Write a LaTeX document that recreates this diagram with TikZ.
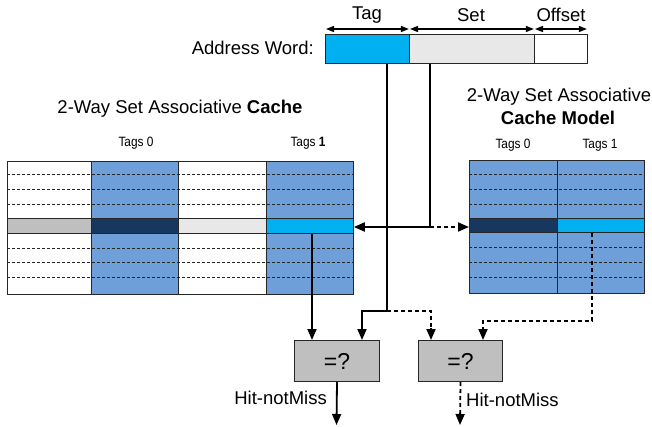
\documentclass[tikz,border=0pt]{standalone}
\usepackage{fontspec}
\setmainfont{Liberation Sans}
\usetikzlibrary{arrows.meta}
\definecolor{colblue}{HTML}{6F9FD8}
\definecolor{navy}{HTML}{17375E}
\definecolor{cyanb}{HTML}{00B0F0}
\definecolor{grayA}{HTML}{BFBFBF}
\definecolor{grayB}{HTML}{E8E8E8}
\tikzset{
  lbl/.style={font=\fontsize{18.5}{21}\selectfont, inner sep=0pt},
  smalllbl/.style={font=\fontsize{13.5}{15}\selectfont, inner sep=0pt},
  cell/.style={draw=black!85, line width=0.8pt, inner sep=0pt, anchor=north west, minimum height=14.5pt},
  segbox/.style={draw=black!85, line width=0.9pt, inner sep=0pt, anchor=north west, minimum height=29pt},
  cmpbox/.style={draw=black!85, line width=1pt, fill=grayA, inner sep=0pt, anchor=north west,
                 minimum width=85pt, minimum height=41pt, font=\fontsize{23}{25}\selectfont},
  wire/.style={line width=1.8pt, black},
  dwire/.style={line width=1.8pt, black, dash pattern=on 4pt off 3pt},
  tip/.style={-{Triangle[length=11pt,width=9pt]}},
  dimarrow/.style={line width=1.3pt, {Triangle[length=8pt,width=6pt]}-{Triangle[length=8pt,width=6pt]}, shorten <=1pt, shorten >=1pt},
  rowline/.style={black!85, line width=0.8pt, dash pattern=on 3pt off 2pt},
  frame/.style={black!85, line width=0.9pt}
}
\newcommand{\narrow}[1]{\scalebox{0.88}[1]{#1}}
\begin{document}
\begin{tikzpicture}[x=1pt,y=-1pt]
\useasboundingbox (0,0) rectangle (652,427);

% ---------- address word ----------
\node[lbl, anchor=east] (aw) at (314,48) {Address Word:};
\node[segbox, fill=cyanb, minimum width=84pt] (aTag) at (325,34) {};
\node[segbox, fill=grayB, minimum width=125pt] (aSet) at (409,34) {};
\node[segbox, fill=white, minimum width=53pt] (aOff) at (534,34) {};
\draw[dimarrow] ([yshift=5pt]aTag.north west) -- ([yshift=5pt]aTag.north east);
\draw[dimarrow] ([yshift=5pt]aSet.north west) -- ([yshift=5pt]aSet.north east);
\draw[dimarrow] ([yshift=5pt]aOff.north west) -- ([yshift=5pt]aOff.north east);
\node[lbl] (ltag) at (367,15) {Tag};
\node[lbl] (lset) at (471,15) {Set};
\node[lbl] (loff) at (561,15) {Offset};

% ---------- left cache ----------
\node[lbl] (ltitle) at (180,109) {2-Way Set Associative \textbf{Cache}};
\node[smalllbl] (lt0) at (136,143) {\narrow{Tags 0}};
\node[smalllbl] (lt1) at (308,143) {\narrow{Tags \textbf{1}}};
\fill[colblue] (91,161) rectangle (178,294);
\fill[colblue] (266,161) rectangle (353,294);
\foreach \yy in {174.5,189,204,248,262.5,277}
  \draw[rowline] (7,\yy) -- (353,\yy);
\node[cell, fill=grayA, minimum width=84pt] (L0a) at (7,218.5) {};
\node[cell, fill=navy, minimum width=87pt] (L0h) at (91,218.5) {};
\node[cell, fill=grayB, minimum width=88pt] (L1a) at (178,218.5) {};
\node[cell, fill=cyanb, minimum width=87pt] (L1h) at (266,218.5) {};
\draw[frame] (7,161) rectangle (353,294);
\foreach \xx in {91,178,266}
  \draw[frame] (\xx,161) -- (\xx,294);

% ---------- right cache (model) ----------
\node[lbl] (rtitle1) at (559,97) {2-Way Set Associative};
\node[lbl] (rtitle2) at (558,118) {\textbf{Cache Model}};
\node[smalllbl] (rt0) at (513,145) {\narrow{Tags 0}};
\node[smalllbl] (rt1) at (600,145) {\narrow{Tags 1}};
\fill[colblue] (469,160) rectangle (644,293);
\foreach \yy in {174.5,189,204,247.5,262,277}
  \draw[rowline] (469,\yy) -- (644,\yy);
\node[cell, fill=navy, minimum width=88pt] (R0h) at (469,218) {};
\node[cell, fill=cyanb, minimum width=87pt] (R1h) at (557,218) {};
\draw[frame] (469,160) rectangle (644,293);
\draw[frame] (557,160) -- (557,293);

% ---------- comparators ----------
\node[cmpbox] (cmp1) at (294,340) {=?};
\node[cmpbox, minimum width=84pt] (cmp2) at (418,340) {=?};

% ---------- connectors ----------
\coordinate (tj) at (387,311);
\coordinate (sj) at (430,227);
\coordinate (rj) at (592,321);
\coordinate (c1a) at (312,340);
\coordinate (c1b) at (362,340);
\coordinate (c2a) at (431,340);
\coordinate (c2b) at (483,340);
\coordinate (o1) at (336.5,425);
\coordinate (o2) at (460,425);

% set index line
\draw[wire] (aSet.south -| sj) -- (sj);
\draw[wire, tip] (sj) -- (L1h.east |- sj);
\draw[dwire, tip] (sj) -- (R0h.west |- sj);
% tag line
\draw[wire] (aTag.south -| tj) -- (tj) -| ([yshift=12pt]c1b);
\draw[wire, tip] ([yshift=12pt]c1b) -- (c1b);
\draw[dwire] (tj) -| ([yshift=12pt]c2a);
\draw[dwire, tip] ([yshift=12pt]c2a) -- (c2a);
% cache tag to comparator 1
\draw[wire, tip] (L1h.south -| c1a) -- (c1a);
% model tag to comparator 2
\draw[dwire] (R1h.south -| rj) -- (rj) -| ([yshift=10pt]c2b);
\draw[dwire, tip] ([yshift=10pt]c2b) -- (c2b);
% outputs
\draw[wire, tip] (cmp1.south) -- (o1);
\draw[dwire, tip] (cmp2.south) -- (o2);
\node[lbl, anchor=east] (hit1) at (327,398) {Hit-notMiss};
\node[lbl, anchor=west] (hit2) at (466,400) {Hit-notMiss};
\end{tikzpicture}
\end{document}
